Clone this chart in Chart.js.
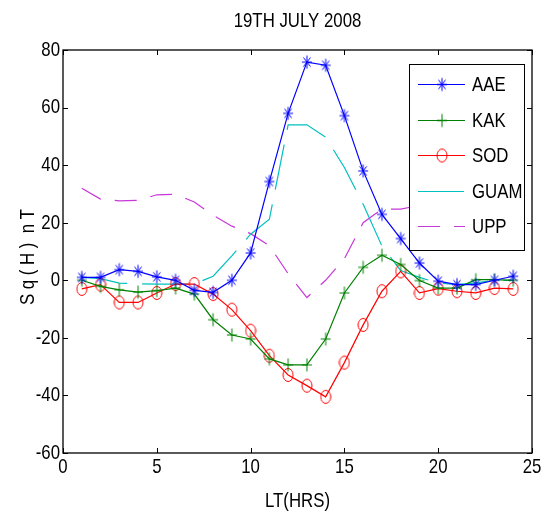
<!DOCTYPE html>
<html>
<head>
<meta charset="utf-8">
<script src="https://cdn.jsdelivr.net/npm/chart.js@4"></script>
<style>
  html, body { margin: 0; padding: 0; background: #fff; }
  #wrap { width: 545px; height: 520px; }
</style>
</head>
<body>
<div id="wrap"><canvas id="chart" width="545" height="520"></canvas></div>
<script>
// ── data ──
const hours = [1, 2, 3, 4, 5, 6, 7, 8, 9, 10, 11, 12, 13, 14, 15, 16, 17, 18, 19, 20, 21, 22, 23, 24];
const aae  = [1, 1, 3.7, 3.1, 1.2, 0, -3.5, -4.2, 0, 9.5, 34.3, 58, 75.8, 74.7, 57.2, 38, 22.9, 14.5, 6, -0.3, -1.5, -1.5, 0, 1.4];
const kak  = [0, -2.1, -3.3, -4.1, -3.6, -2.7, -4.8, -13.7, -19, -20.4, -27.3, -29.4, -29.4, -20.4, -4.4, 4.5, 8.7, 5.5, -0.1, -2.7, -2.7, 0.2, 0.2, 0];
const sod  = [-3, -1.5, -7.7, -7.7, -4.4, -1.3, -1.3, -4.8, -10.2, -17.5, -26.2, -32.9, -36.6, -40.5, -28.6, -15.5, -3.8, 3.1, -4.4, -2.9, -3.8, -4.4, -2.7, -3];
const guam = [1, 0.6, -1, -1.2, -1.3, -1.3, -1.3, 1.4, 8.5, 16, 21.2, 54, 54, 49.7, 39.2, 26.4, 11.9, 3.4, 1, -0.9, -1.5, -0.9, 0, 0];
const upp  = [32, 28.2, 27.6, 27.8, 29.7, 29.9, 27.2, 22.6, 18.8, 16.2, 12, 2.3, -6, 0, 7.5, 20, 24.7, 24.7, 26, 27, 28, 29, 30, 31];
const xTicks = [0, 5, 10, 15, 20, 25];
const yTicks = [-60, -40, -20, 0, 20, 40, 60, 80];

// no narrow font installed, so Liberation Sans gets squeezed sideways when drawn
const FONT = "21px 'Liberation Sans', Arial, sans-serif";
const SQUEEZE = 0.8;
const GUAM_DASH = [46, 15];
const UPP_DASH = [22, 14];

// matlab-ish markers, a bit taller than wide like the exported figure
function marker(kind, color) {
  const c = document.createElement('canvas');
  c.width = 12; c.height = 16;
  const g = c.getContext('2d');
  g.strokeStyle = color; g.lineWidth = 1;
  const cx = 6, cy = 8, rx = 5, ry = 6.5;
  g.beginPath();
  if (kind === 'circle') {
    g.ellipse(cx, cy, rx, ry, 0, 0, Math.PI * 2);
  } else {
    g.moveTo(cx, cy - ry); g.lineTo(cx, cy + ry);
    g.moveTo(cx - rx, cy); g.lineTo(cx + rx, cy);
    if (kind === 'star') {
      g.moveTo(cx - rx * 0.7, cy - ry * 0.7); g.lineTo(cx + rx * 0.7, cy + ry * 0.7);
      g.moveTo(cx + rx * 0.7, cy - ry * 0.7); g.lineTo(cx - rx * 0.7, cy + ry * 0.7);
    }
  }
  g.stroke();
  return c;
}

const pts = arr => hours.map((h, i) => ({ x: h, y: arr[i] }));

const series = [
  { label: 'AAE',  data: aae,  color: '#0000ff', marker: marker('star', '#0000ff') },
  { label: 'KAK',  data: kak,  color: '#008000', marker: marker('plus', '#008000') },
  { label: 'SOD',  data: sod,  color: '#ff0000', marker: marker('circle', '#ff0000') },
  { label: 'GUAM', data: guam, color: '#00c0c0', marker: null, dash: GUAM_DASH },
  { label: 'UPP',  data: upp,  color: '#c838d8', marker: null, dash: UPP_DASH },
];

function text(ctx, str, x, y, align, rot) {
  ctx.save();
  ctx.translate(x, y);
  if (rot) ctx.rotate(rot);
  ctx.scale(SQUEEZE, 1);
  ctx.font = FONT;
  ctx.fillStyle = '#000';
  ctx.textAlign = align;
  ctx.textBaseline = 'middle';
  ctx.fillText(str, 0, 0);
  ctx.restore();
}

// title, labels, inward ticks, box frame and the boxed legend
const figurePlugin = {
  id: 'figure',
  afterDatasetsDraw(chart) {
    const { ctx, chartArea: a, scales: { x, y } } = chart;
    const midX = (a.left + a.right) / 2;
    ctx.save();

    // legend box
    const lx = 409, ly = 64, lw = 115, lh = 186;
    ctx.fillStyle = '#fff';
    ctx.fillRect(lx, ly, lw, lh);
    ctx.strokeStyle = '#000'; ctx.lineWidth = 1;
    ctx.strokeRect(lx + 0.5, ly + 0.5, lw, lh);
    series.forEach((s, i) => {
      const yy = Math.round(84 + i * 35.5) + 0.5;
      ctx.strokeStyle = s.color; ctx.lineWidth = 1.2;
      ctx.setLineDash(s.dash || []);
      ctx.beginPath(); ctx.moveTo(418, yy); ctx.lineTo(465, yy); ctx.stroke();
      ctx.setLineDash([]);
      if (s.marker) ctx.drawImage(s.marker, 442 - 6, yy - 8);
      text(ctx, s.label, 472, yy + 1, 'left');
    });

    // frame + inward ticks on all four sides
    ctx.strokeStyle = '#000'; ctx.lineWidth = 1.3;
    ctx.strokeRect(a.left, a.top, a.right - a.left, a.bottom - a.top);
    ctx.lineWidth = 1;
    const tl = 5;
    ctx.beginPath();
    xTicks.forEach(v => {
      const px = Math.round(x.getPixelForValue(v)) + 0.5;
      ctx.moveTo(px, a.bottom); ctx.lineTo(px, a.bottom - tl);
      ctx.moveTo(px, a.top); ctx.lineTo(px, a.top + tl);
    });
    yTicks.forEach(v => {
      const py = Math.round(y.getPixelForValue(v)) + 0.5;
      ctx.moveTo(a.left, py); ctx.lineTo(a.left + tl, py);
      ctx.moveTo(a.right, py); ctx.lineTo(a.right - tl, py);
    });
    ctx.stroke();

    // tick labels from the scales
    xTicks.forEach(v => text(ctx, String(v), x.getPixelForValue(v), a.bottom + 14, 'center'));
    yTicks.forEach(v => text(ctx, String(v), a.left - 3, y.getPixelForValue(v), 'right'));

    // titles
    text(ctx, '19TH JULY 2008', midX, 21, 'center');
    text(ctx, 'LT(HRS)', midX, 501, 'center');
    text(ctx, 'S q ( H )  n T', 28, 257, 'center', -Math.PI / 2);
    ctx.restore();
  },
};

new Chart(document.getElementById('chart'), {
  type: 'line',
  data: {
    datasets: series.map(s => ({
      label: s.label,
      data: pts(s.data),
      borderColor: s.color,
      backgroundColor: s.color,
      borderWidth: 1.2,
      borderDash: s.dash || [],
      tension: 0,
      fill: false,
      pointStyle: s.marker || 'circle',
      pointRadius: s.marker ? 6 : 0,
      pointHoverRadius: 0,
    })),
  },
  options: {
    responsive: false,
    animation: false,
    devicePixelRatio: 1,
    layout: { padding: { top: 50, right: 13, bottom: 0, left: 0 } },
    plugins: { legend: { display: false }, tooltip: { enabled: false }, title: { display: false } },
    scales: {
      x: {
        type: 'linear', min: 0, max: 25,
        afterBuildTicks: s => { s.ticks = xTicks.map(v => ({ value: v })); },
        afterFit: s => { s.height = 67; },
        grid: { display: false },
        border: { display: false },
        ticks: { display: false },
      },
      y: {
        type: 'linear', min: -60, max: 80,
        afterBuildTicks: s => { s.ticks = yTicks.map(v => ({ value: v })); },
        afterFit: s => { s.width = 63; },
        grid: { display: false },
        border: { display: false },
        ticks: { display: false },
      },
    },
  },
  plugins: [figurePlugin],
});
</script>
</body>
</html>
